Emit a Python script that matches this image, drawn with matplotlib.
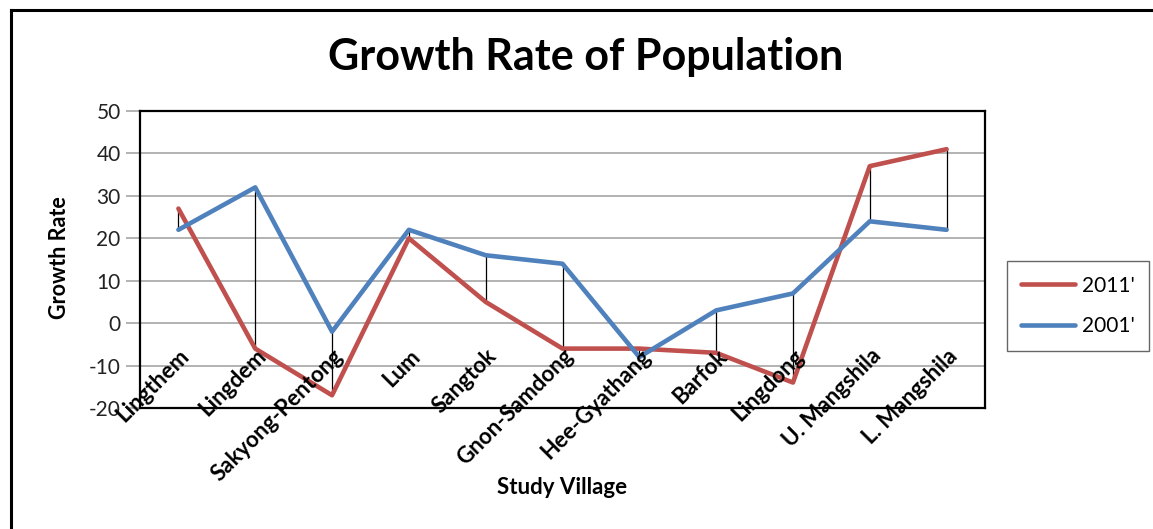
import matplotlib.pyplot as plt
from matplotlib.lines import Line2D
import numpy as np

plt.rcParams['font.family'] = ['Lato', 'DejaVu Sans']

villages = ['Lingthem', 'Lingdem', 'Sakyong-Pentong', 'Lum', 'Sangtok',
            'Gnon-Samdong', 'Hee-Gyathang', 'Barfok', 'Lingdong',
            'U. Mangshila', 'L. Mangshila']
rate_2011 = [27, -6, -17, 20, 5, -6, -6, -7, -14, 37, 41]
rate_2001 = [22, 32, -2, 22, 16, 14, -8, 3, 7, 24, 22]
yticks = [-20, -10, 0, 10, 20, 30, 40, 50]

red = '#C0504D'
blue = '#4F81BD'

fig = plt.figure(figsize=(11.53, 5.29), dpi=100)
ax = fig.add_axes([140/1153, 1 - 408/529, (985 - 140)/1153, (408 - 111)/529])

x = np.arange(len(villages))

# high-low lines between the two series
ax.vlines(x, np.minimum(rate_2011, rate_2001), np.maximum(rate_2011, rate_2001),
          color='black', lw=0.9, zorder=2)
ax.plot(x, rate_2011, color=red, lw=3.3, solid_capstyle='round', zorder=3)
ax.plot(x, rate_2001, color=blue, lw=3.3, solid_capstyle='round', zorder=3)

ax.set_xlim(-0.5, len(villages) - 0.5)
ax.set_ylim(-20, 50)
ax.set_yticks(yticks)
ax.set_yticklabels([str(v) for v in yticks], fontsize=15, color='#222222')
ax.yaxis.grid(True, color='#A6A6A6', lw=1.2)
ax.set_axisbelow(True)
ax.tick_params(axis='y', length=10, color='#A6A6A6', width=1.2, pad=4)
ax.set_xticks([])
for s in ax.spines.values():
    s.set_linewidth(1.6)
    s.set_color('black')

# category labels sit on the plot, just below the zero line
for i, name in enumerate(villages):
    ax.text(i + 0.1, -7, name, rotation=45, rotation_mode='anchor',
            ha='right', va='center', fontsize=16, fontweight='bold',
            clip_on=False, zorder=4)

fig.text(586/1153, 1 - 57/529, 'Growth Rate of Population', ha='center',
         va='center', fontsize=31, fontweight='bold')
fig.text(60/1153, 1 - 258/529, 'Growth Rate', rotation=90, ha='center',
         va='center', fontsize=15.5, fontweight='bold')
fig.text(562/1153, 1 - 488/529, 'Study Village', ha='center', va='center',
         fontsize=16, fontweight='bold')

handles = [Line2D([], [], color=red, lw=3.3, solid_capstyle='round'),
           Line2D([], [], color=blue, lw=3.3, solid_capstyle='round')]
leg = fig.legend(handles, ["2011'", "2001'"], loc='center right',
                 bbox_to_anchor=(1149/1153, 1 - 306/529), fontsize=15,
                 frameon=True, fancybox=False, edgecolor='#404040',
                 handlelength=2.6, handletextpad=0.3, labelspacing=1.0,
                 borderpad=0.7, borderaxespad=0)
leg.get_frame().set_linewidth(1.0)

# outer chart border
fig.add_artist(Line2D([11/1153, 11/1153], [0, 1 - 10/529], color='black', lw=2.2,
                      transform=fig.transFigure))
fig.add_artist(Line2D([11/1153, 1], [1 - 10/529, 1 - 10/529], color='black', lw=2.2,
                      transform=fig.transFigure))

fig.savefig('out.png', dpi=100)
